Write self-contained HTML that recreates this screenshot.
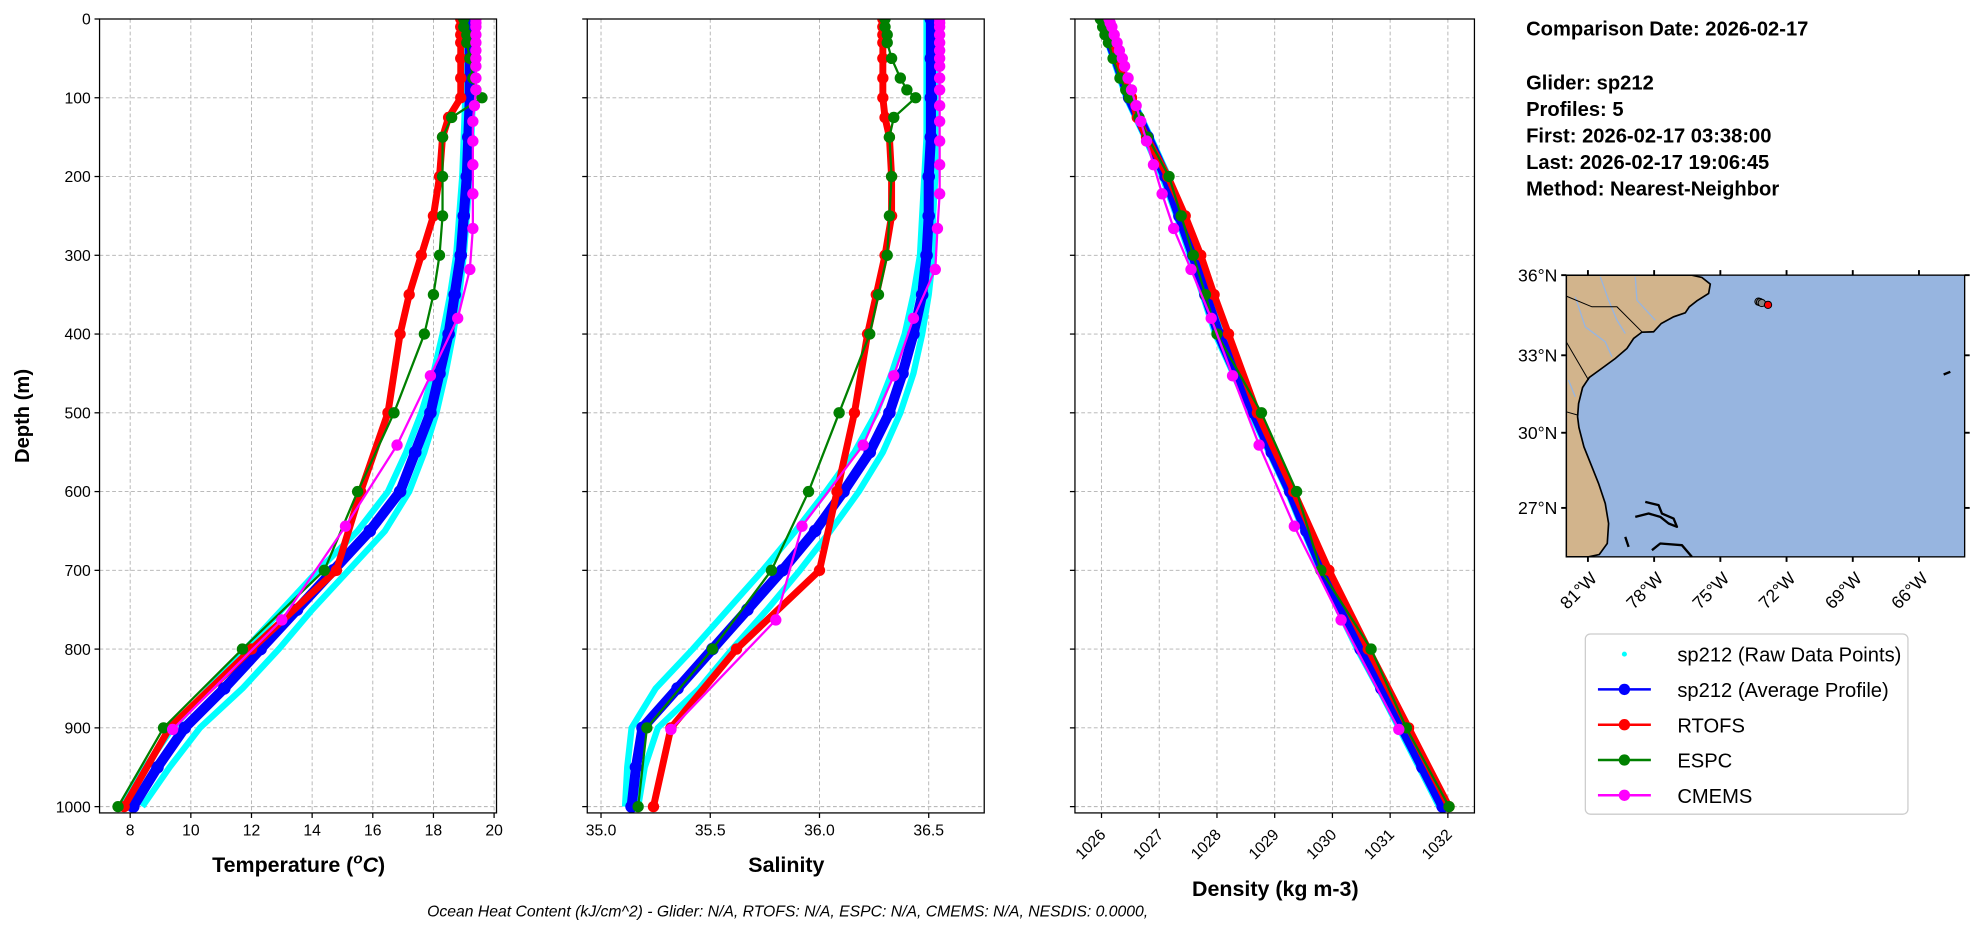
<!DOCTYPE html>
<html><head><meta charset="utf-8"><style>
body{margin:0;background:#fff;}
svg text{font-family:"Liberation Sans",sans-serif;}
</style></head><body>
<svg id="fig" width="1976" height="934" viewBox="0 0 1568 741" xmlns="http://www.w3.org/2000/svg">
<rect width="1568" height="741" fill="#fff"/>
<g id="p1"></g>
<g id="p2"></g>
<g id="p3"></g>
<text transform="translate(23,330) rotate(-90)" text-anchor="middle" font-size="16" font-weight="bold">Depth (m)</text>
<text x="237" y="692" text-anchor="middle" font-size="17" font-weight="bold">Temperature (<tspan font-style="italic" font-size="12" dy="-7">o</tspan><tspan font-style="italic" dy="7">C</tspan>)</text>
<text x="624" y="692" text-anchor="middle" font-size="17" font-weight="bold">Salinity</text>
<text x="1012" y="711" text-anchor="middle" font-size="17" font-weight="bold">Density (kg m-3)</text>
<text x="625" y="727" text-anchor="middle" font-size="12.5" font-style="italic">Ocean Heat Content (kJ/cm^2) - Glider: N/A,  RTOFS: N/A,  ESPC: N/A,  CMEMS: N/A,  NESDIS: 0.0000,</text>
<g font-size="16" font-weight="bold">
<text x="1211" y="28">Comparison Date: 2026-02-17</text>
<text x="1211" y="71">Glider: sp212</text>
<text x="1211" y="92">Profiles: 5</text>
<text x="1211" y="113">First: 2026-02-17 03:38:00</text>
<text x="1211" y="134">Last: 2026-02-17 19:06:45</text>
<text x="1211" y="155">Method: Nearest-Neighbor</text>
</g>
<g id="map"></g>
<g>
<rect x="1258" y="503" width="256" height="143" rx="4" fill="#fff" stroke="#ccc"/>
<g font-size="16">
<circle cx="1289" cy="519" r="2" fill="cyan"/><text x="1331" y="525">sp212 (Raw Data Points)</text>
<line x1="1268" y1="547" x2="1310" y2="547" stroke="blue" stroke-width="2"/><circle cx="1289" cy="547" r="4.5" fill="blue"/><text x="1331" y="553">sp212 (Average Profile)</text>
<line x1="1268" y1="575" x2="1310" y2="575" stroke="red" stroke-width="2"/><circle cx="1289" cy="575" r="4.5" fill="red"/><text x="1331" y="581">RTOFS</text>
<line x1="1268" y1="603" x2="1310" y2="603" stroke="green" stroke-width="2"/><circle cx="1289" cy="603" r="4.5" fill="green"/><text x="1331" y="609">ESPC</text>
<line x1="1268" y1="631" x2="1310" y2="631" stroke="magenta" stroke-width="2"/><circle cx="1289" cy="631" r="4.5" fill="magenta"/><text x="1331" y="637">CMEMS</text>
</g></g>
</svg>
<script>
const NS="http://www.w3.org/2000/svg";
// depth arrays
const gliderDepth=[0,50,100,150,200,250,300,350,400,450,500,550,600,650,700,750,800,850,900,950,1000];
const rtofsDepth=[0,10,20,30,50,75,100,125,150,200,250,300,350,400,500,600,700,800,900,1000];
const espcDepth=[0,10,20,30,50,75,90,100,125,150,200,250,300,350,400,500,600,700,800,900,1000];
const cmemsDepth=[0,5,10,20,30,40,50,60,75,90,110,130,155,185,222,266,318,380,453,541,644,763,902];
// temperature
const gliderTemp=[19.2,19.2,19.2,19.15,19.1,19.0,18.9,18.7,18.5,18.2,17.9,17.4,16.9,15.9,14.7,13.5,12.3,11.1,9.8,8.9,8.1];
const rawTempLow=[19.05,19.05,19.05,19.0,18.95,18.85,18.75,18.55,18.3,18.0,17.6,17.1,16.5,15.5,14.2,13.0,11.8,10.6,9.4,8.5,7.7];
const rawTempHigh=[19.3,19.3,19.3,19.25,19.2,19.1,19.0,18.85,18.65,18.4,18.1,17.7,17.2,16.4,15.2,14.0,12.9,11.7,10.3,9.3,8.4];
const rtofsTemp=[18.9,18.9,18.9,18.9,18.9,18.9,18.9,18.5,18.3,18.2,18.0,17.6,17.2,16.9,16.5,15.6,14.8,12.0,9.3,7.8];
const espcTemp=[19.0,19.0,19.1,19.1,19.2,19.3,19.4,19.6,18.6,18.3,18.3,18.3,18.2,18.0,17.7,16.7,15.5,14.4,11.7,9.1,7.6];
const cmemsTemp=[19.4,19.4,19.4,19.4,19.4,19.4,19.4,19.4,19.4,19.4,19.35,19.3,19.3,19.3,19.3,19.3,19.2,18.8,17.9,16.8,15.1,13.0,9.4];
// salinity
const gliderSal=[36.51,36.51,36.51,36.51,36.5,36.5,36.49,36.47,36.43,36.38,36.32,36.23,36.11,35.98,35.83,35.67,35.51,35.35,35.19,35.16,35.14];
const rawSalLow=[36.49,36.49,36.49,36.49,36.48,36.47,36.46,36.43,36.39,36.33,36.26,36.16,36.03,35.89,35.74,35.58,35.42,35.25,35.14,35.12,35.11];
const rawSalHigh=[36.53,36.53,36.53,36.53,36.53,36.52,36.52,36.5,36.47,36.43,36.37,36.29,36.18,36.05,35.91,35.76,35.6,35.45,35.26,35.2,35.17];
const rtofsSal=[36.29,36.29,36.29,36.29,36.29,36.29,36.29,36.3,36.32,36.33,36.33,36.3,36.26,36.22,36.16,36.08,36.0,35.62,35.32,35.24];
const espcSal=[36.3,36.3,36.31,36.31,36.33,36.37,36.4,36.44,36.34,36.32,36.33,36.32,36.31,36.27,36.23,36.09,35.95,35.78,35.51,35.21,35.17];
const cmemsSal=[36.55,36.55,36.55,36.55,36.55,36.55,36.55,36.55,36.55,36.55,36.55,36.55,36.55,36.55,36.55,36.54,36.53,36.43,36.34,36.2,35.92,35.8,35.32];
// density
const gliderDen=[1026.0,1026.25,1026.48,1026.8,1027.11,1027.35,1027.59,1027.8,1028.03,1028.33,1028.64,1028.95,1029.27,1029.55,1029.84,1030.16,1030.49,1030.85,1031.21,1031.56,1031.91];
const rawDenLow=[1025.97,1026.2,1026.43,1026.75,1027.05,1027.3,1027.53,1027.75,1027.97,1028.28,1028.58,1028.9,1029.22,1029.5,1029.79,1030.1,1030.43,1030.8,1031.15,1031.5,1031.85];
const rawDenHigh=[1026.05,1026.3,1026.53,1026.85,1027.16,1027.4,1027.64,1027.86,1028.08,1028.38,1028.7,1029.0,1029.32,1029.6,1029.89,1030.22,1030.55,1030.9,1031.27,1031.62,1031.97];
const rtofsDen=[1026.02,1026.06,1026.12,1026.16,1026.24,1026.38,1026.52,1026.62,1026.78,1027.15,1027.45,1027.72,1027.95,1028.2,1028.7,1029.33,1029.94,1030.62,1031.32,1032.02];
const espcDen=[1025.98,1026.02,1026.06,1026.12,1026.2,1026.32,1026.42,1026.48,1026.65,1026.8,1027.17,1027.38,1027.59,1027.8,1028.0,1028.77,1029.38,1029.8,1030.67,1031.28,1032.02];
const cmemsDen=[1026.13,1026.15,1026.18,1026.22,1026.27,1026.31,1026.36,1026.4,1026.46,1026.52,1026.6,1026.68,1026.78,1026.9,1027.05,1027.25,1027.55,1027.9,1028.27,1028.73,1029.34,1030.15,1031.15];
const tempTicks=[8,10,12,14,16,18,20];
const salTicks=[35.0,35.5,36.0,36.5];
const salTickLabels=["35.0","35.5","36.0","36.5"];
const denTicks=[1026,1027,1028,1029,1030,1031,1032];
const depthTicks=[0,100,200,300,400,500,600,700,800,900,1000];

function el(tag,attrs,parent){const e=document.createElementNS(NS,tag);for(const k in attrs)e.setAttribute(k,attrs[k]);parent.appendChild(e);return e;}
const TOP=15,BOT=645,DMIN=0,DMAX=1008;
function yS(d){return TOP+(d-DMIN)/(DMAX-DMIN)*(BOT-TOP);}

function panel(g,x0,x1,xmin,xmax,ticks,labels,rot,showY,series,raw){
  const xS=v=>x0+(v-xmin)/(xmax-xmin)*(x1-x0);
  depthTicks.forEach(d=>{const l=el('line',{x1:x0,x2:x1,y1:yS(d),y2:yS(d),stroke:'#b0b0b0','stroke-width':0.7,'stroke-dasharray':'3,2'},g);
    
    
    el('line',{x1:x0-4,x2:x0,y1:yS(d),y2:yS(d),stroke:'#000','stroke-width':1},g);
    if(showY){const t=el('text',{x:x0-7,y:yS(d)+4.5,'text-anchor':'end','font-size':12.5},g);t.textContent=d;
      
      }
  });
  ticks.forEach((v,i)=>{const x=xS(v);
    el('line',{x1:x,x2:x,y1:TOP,y2:BOT,stroke:'#b0b0b0','stroke-width':0.7,'stroke-dasharray':'3,2'},g);
    el('line',{x1:x,x2:x,y1:BOT,y2:BOT+4,stroke:'#000','stroke-width':1},g);
    let t;
    if(rot){t=el('text',{transform:`translate(${x+4},${BOT+18}) rotate(-45)`,'text-anchor':'end','font-size':12.5},g);}
    else{t=el('text',{x:x,y:BOT+18,'text-anchor':'middle','font-size':12.5},g);}
    t.textContent=labels[i];
    
    
  });
  const clip='c'+x0;
  const cp=el('clipPath',{id:clip},g);el('rect',{x:x0,y:TOP,width:x1-x0,height:BOT-TOP},cp);
  const pg=el('g',{'clip-path':`url(#${clip})`},g);
  raw.forEach(arr=>{
    const pts=gliderDepth.map((d,i)=>xS(arr[i])+','+yS(d)).join(' ');
    const p=el('polyline',{points:pts,fill:'none',stroke:'cyan','stroke-width':5,'stroke-linejoin':'round'},pg);
    
    
  });
  series.forEach(s=>{
    const pts=s.d.map((d,i)=>xS(s.v[i])+','+yS(d)).join(' ');
    const p=el('polyline',{points:pts,fill:'none',stroke:s.c,'stroke-width':s.w,'stroke-linejoin':'round'},pg);
    
    
    s.d.forEach((d,i)=>{const c=el('circle',{cx:xS(s.v[i]),cy:yS(d),r:s.r,fill:s.c},pg);
      
      });
  });
  el('rect',{x:x0,y:TOP,width:x1-x0,height:BOT-TOP,fill:'none',stroke:'#000','stroke-width':1}, g);
}
function mk(rv,ev,cv,gv){return [
 {n:'sp212-average',d:gliderDepth,v:gv,c:'blue',w:8,r:5},
 {n:'rtofs',d:rtofsDepth,v:rv,c:'red',w:5.5,r:4.5},
 {n:'espc',d:espcDepth,v:ev,c:'green',w:1.8,r:4.5},
 {n:'cmems',d:cmemsDepth,v:cv,c:'magenta',w:1.8,r:4.5}];}
panel(document.getElementById('p1'),79,394,6.99,20.08,tempTicks,tempTicks,false,true,mk(rtofsTemp,espcTemp,cmemsTemp,gliderTemp),[rawTempLow,rawTempHigh]);
panel(document.getElementById('p2'),466,781,34.937,36.754,salTicks,salTickLabels,false,false,mk(rtofsSal,espcSal,cmemsSal,gliderSal),[rawSalLow,rawSalHigh]);
panel(document.getElementById('p3'),853,1170,1025.54,1032.46,denTicks,denTicks,true,false,mk(rtofsDen,espcDen,cmemsDen,gliderDen),[rawDenLow,rawDenHigh]);

// map (coast outlines in local map pixel space)
const lonTicks=[-81,-78,-75,-72,-69,-66];
const latTicks=[36,33,30,27];
const gliderLon=[-73.27,-73.2,-73.12,-72.84];
const gliderLat=[35.02,35.0,34.97,34.9];
const coast=[[63,15],[400,15],[440,15],[470,22],[495,42],[490,70],[455,92],[432,110],[420,128],[385,140],[348,160],[325,185],[290,186],[265,205],[245,235],[210,265],[165,298],[132,322],[112,352],[100,400],[97,440],[101,472],[116,530],[140,590],[160,640],[180,700],[190,760],[186,820],[162,853],[130,860],[63,860]];
const borders=[[[63,78],[140,110],[215,110],[290,185]],[[63,215],[130,330]],[[63,425],[98,435]]];
const rivers=[[[165,20],[190,90],[215,150],[240,190]],[[270,20],[275,90],[330,150]],[[90,80],[120,170],[180,215],[200,260]],[[70,330],[90,380]]];
const islands=[[[300,695],[340,705],[350,730],[385,745],[395,770],[370,760],[345,740],[310,730],[270,740]],[[240,800],[250,830]],[[320,840],[345,820],[410,825],[440,860]],[[1195,313],[1215,305]]];
(function(){
 const g=document.getElementById('map');
 const S=1/(3*1.26), OX=1545/1.26, OY=270/1.26;
 const ZX0=63,ZX1=1258,ZY0=15,ZY1=860;
 const merc=la=>Math.log(Math.tan(Math.PI/4+la*Math.PI/360));
 const zx=lo=>128+(lo+81)*66.2;
 const zy=la=>15+(merc(36)-merc(la))*3783;
 const dx=z=>OX+z*S, dy=z=>OY+z*S;
 const mg=el('g',{transform:`translate(${OX},${OY}) scale(${S})`},g);
 const cp=el('clipPath',{id:'mapclip'},mg);el('rect',{x:ZX0,y:ZY0,width:ZX1-ZX0,height:ZY1-ZY0},cp);
 const cg=el('g',{'clip-path':'url(#mapclip)'},mg);
 el('rect',{x:ZX0,y:ZY0,width:ZX1-ZX0,height:ZY1-ZY0,fill:'#97b5e0'},cg);
 const land=el('polygon',{points:coast.map(p=>p.join(',')).join(' '),fill:'#d2b48c',stroke:'#000','stroke-width':5},cg);
 
 
 rivers.forEach(r=>el('polyline',{points:r.map(p=>p.join(',')).join(' '),fill:'none',stroke:'#97b5e0','stroke-width':4},cg));
 borders.forEach(b=>el('polyline',{points:b.map(p=>p.join(',')).join(' '),fill:'none',stroke:'#000','stroke-width':3},cg));
 islands.forEach(b=>el('polyline',{points:b.map(p=>p.join(',')).join(' '),fill:'none',stroke:'#000','stroke-width':7,'stroke-linejoin':'round'},cg));
 gliderLon.forEach((lo,i)=>{const c=el('circle',{cx:zx(lo),cy:zy(gliderLat[i]),r:11,fill:i==gliderLon.length-1?'red':'#888',stroke:'#000','stroke-width':3},cg);
   
   });
 el('rect',{x:ZX0,y:ZY0,width:ZX1-ZX0,height:ZY1-ZY0,fill:'none',stroke:'#000','stroke-width':4},mg);
 const X0=dx(ZX0),X1=dx(ZX1),Y0=dy(ZY0),Y1=dy(ZY1);
 lonTicks.forEach(lo=>{const x=dx(zx(lo));
   el('line',{x1:x,x2:x,y1:Y1,y2:Y1+4,stroke:'#000','stroke-width':1.5},g);el('line',{x1:x,x2:x,y1:Y0-4,y2:Y0,stroke:'#000','stroke-width':1.5},g);
   const t=el('text',{transform:`translate(${x+8},${Y1+18}) rotate(-45)`,'text-anchor':'end','font-size':14},g);t.textContent=Math.abs(lo)+'°W';
   
   });
 latTicks.forEach(la=>{const y=dy(zy(la));
   el('line',{x1:X0-4,x2:X0,y1:y,y2:y,stroke:'#000','stroke-width':1.5},g);el('line',{x1:X1,x2:X1+4,y1:y,y2:y,stroke:'#000','stroke-width':1.5},g);
   const t=el('text',{x:X0-7,y:y+5,'text-anchor':'end','font-size':14},g);t.textContent=la+'°N';
   
   });
})();
</script>
</body></html>
